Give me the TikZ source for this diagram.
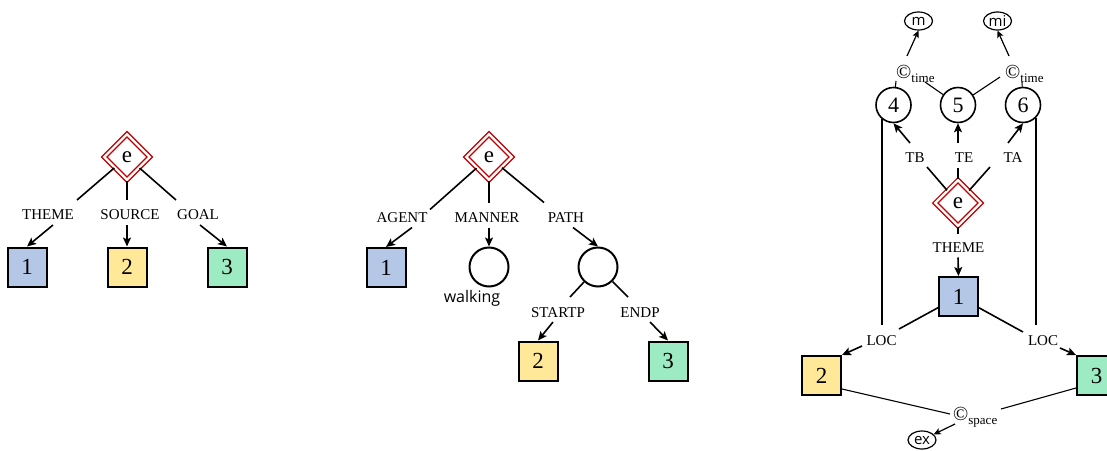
\documentclass[tikz,border=0pt]{standalone}
\usepackage{fontspec}
\setmainfont{Liberation Serif}
\newfontfamily\sansf{Open Sans}
\usetikzlibrary{shapes.geometric,arrows.meta,calc}

\definecolor{evred}{HTML}{C00000}
\definecolor{boxblue}{HTML}{B4C7E7}
\definecolor{boxyellow}{HTML}{FFE998}
\definecolor{boxgreen}{HTML}{9CEBC2}

% relation symbol with a lowered subscript word
\newcommand\relsym[1]{{\fontsize{20}{20}\selectfont ©}\raisebox{-4pt}{\fontsize{13}{13}\selectfont #1}}

\begin{document}
\begin{tikzpicture}[x=1pt,y=-1pt,
  event/.style={diamond, draw=evred, double=white, double distance=2.4pt,
    line width=1.3pt, minimum width=46pt, minimum height=46pt, inner sep=0pt,
    font=\fontsize{23}{23}\selectfont},
  ent/.style={rectangle, draw, line width=2pt, minimum size=39pt, inner sep=0pt,
    font=\fontsize{23}{23}\selectfont},
  slot/.style={circle, draw, line width=2pt, minimum size=39pt, inner sep=0pt},
  tslot/.style={circle, draw, line width=1.6pt, minimum size=35pt, inner sep=0pt,
    font=\fontsize{22}{22}\selectfont},
  val/.style={ellipse, draw, line width=1.2pt, minimum width=28pt, minimum height=18pt,
    inner sep=0pt, font=\sansf\fontsize{15}{15}\selectfont},
  role/.style={inner sep=0pt, text height=10pt, text depth=0pt,
    font=\fontsize{15}{15}\selectfont},
  rel/.style={inner sep=0pt, anchor=base west},
  conn/.style={line width=1.6pt},
  arr/.style={conn, -{Stealth[length=9pt,width=8pt,inset=2pt]}},
  thinc/.style={line width=1.1pt},
  arrs/.style={line width=1.2pt, -{Stealth[length=7pt,width=6.5pt,inset=1.5pt]}}
]
\useasboundingbox (0,0) rectangle (1107,450);
\clip (0,0) rectangle (1107,450);

% ---------- motion event: theme, source, goal ----------
\node[event] (ea) at (127,157) {e};
\node[role] (ath) at (48,214.5) {THEME};
\node[role] (aso) at (130,214.5) {SOURCE};
\node[role] (ago) at (198,214.5) {GOAL};
\node[ent, fill=boxblue]   (a1) at (27,267)  {1};
\node[ent, fill=boxyellow] (a2) at (127,267) {2};
\node[ent, fill=boxgreen]  (a3) at (227,267) {3};
\draw[conn] (ea) -- ([shift={(29,-14.5)}]ath.center);
\draw[conn] (ea) -- ([shift={(-3,-14.5)}]aso.center);
\draw[conn] (ea) -- ([shift={(-22,-14.5)}]ago.center);
\draw[arr] ([shift={(5,10.5)}]ath.center) -- (a1.north);
\draw[arr] ([shift={(-3,10.5)}]aso.center) -- (a2.north);
\draw[arr] ([shift={(2,10.5)}]ago.center) -- (a3.north);

% ---------- agent, manner and path ----------
\node[event] (eb) at (489,157) {e};
\node[role] (bag) at (402,217.5) {AGENT};
\node[role] (bma) at (487,217.5) {MANNER};
\node[role] (bpa) at (566,217.5) {PATH};
\node[ent, fill=boxblue] (b1) at (386,267.5) {1};
\node[slot] (bw) at (489,267) {};
\node[slot] (bp) at (598,267) {};
\node[inner sep=0pt, font=\sansf\fontsize{16}{16}\selectfont] (bwl) at (472,298) {walking};
\node[role] (bst) at (558,312) {STARTP};
\node[role] (ben) at (640,312) {ENDP};
\node[ent, fill=boxyellow] (b2) at (538,361) {2};
\node[ent, fill=boxgreen]  (b3) at (668,361) {3};
\draw[conn] (eb) -- ([shift={(28,-8)}]bag.center);
\draw[conn] (eb) -- ([shift={(2,-15)}]bma.center);
\draw[conn] (eb) -- ([shift={(-22,-15)}]bpa.center);
\draw[arr] ([shift={(10,10)}]bag.center) -- (b1.north);
\draw[arr] ([shift={(2,10)}]bma.center) -- (bw.north);
\draw[arr] ([shift={(7,10)}]bpa.center) -- (bp.north);
\draw[conn] (bp) -- ([shift={(12,-15)}]bst.center);
\draw[conn] (bp) -- ([shift={(-12,-15)}]ben.center);
\draw[arr] ([shift={(-5,10)}]bst.center) -- (b2.north);
\draw[arr] ([shift={(10,10)}]ben.center) -- (b3.north);

% ---------- temporal and spatial structure ----------
\node[event] (ec) at (958,203) {e};
\node[tslot] (c4) at (893.5,105) {4};
\node[tslot] (c5) at (958,105)   {5};
\node[tslot] (c6) at (1023,105)  {6};
\node[val] (cm)  at (918.5,21) {m};
\node[val] (cmi) at (997.5,21) {mi};
\node[val] (cex) at (922,440)  {ex};
\node[rel] (ctl) at (896,78)  {\relsym{time}};
\node[rel] (ctr) at (1005,78) {\relsym{time}};
\node[rel] (csp) at (953,420) {\relsym{space}};
\node[role] (ctb) at (915,157.5) {TB};
\node[role] (cte) at (964,157.5) {TE};
\node[role] (cta) at (1013,157.5) {TA};
\node[role] (cth) at (958.5,247.5) {THEME};
\node[ent, fill=boxblue] (c1) at (958.5,296.5) {1};
\node[role] (cl1) at (881.5,340) {LOC};
\node[role] (cl2) at (1043,340) {LOC};
\node[ent, fill=boxyellow] (c2) at (821.5,375.5)  {2};
\node[ent, fill=boxgreen]  (c3) at (1096.5,375.5) {3};

% time relations
\draw[arrs] ([shift={(11,-22)}]ctl.base west) -- (cm.south);
\draw[thinc] ([shift={(0,3)}]ctl.base west) -- (c4);
\draw[thinc] ([shift={(29,4)}]ctl.base west) -- (c5);
\draw[arrs] ([shift={(4,-22)}]ctr.base west) -- (cmi.south);
\draw[thinc] ([shift={(-5,-1)}]ctr.base west) -- (c5);
\draw[thinc] ([shift={(17,4)}]ctr.base west) -- (c6);

% event to time points
\draw[conn] (ec) -- ([shift={(12,9.5)}]ctb.center);
\draw[arr] ([shift={(-5,-14.5)}]ctb.center) -- (c4.south);
\draw[conn] (ec) -- ([shift={(-6,10.5)}]cte.center);
\draw[arr] ([shift={(-6,-14.5)}]cte.center) -- (c5.south);
\draw[conn] (ec) -- ([shift={(-23,9.5)}]cta.center);
\draw[arr] ([shift={(-5,-14.5)}]cta.center) -- (c6.south);

% theme
\draw[conn] (ec) -- ([shift={(-0.5,-13.5)}]cth.center);
\draw[arr] ([shift={(-0.5,10)}]cth.center) -- (c1.north);

% locations
\draw[conn, shorten >=10pt] (c4.230) -- (c4.230 |- cl1.north);
\draw[conn, shorten >=10pt] (c6.316) -- (c6.316 |- cl2.north);
\draw[conn] (c1) -- ([shift={(17.5,-11)}]cl1.center);
\draw[arr] ([shift={(-19.5,6)}]cl1.center) -- (c2.north east);
\draw[conn] (c1) -- ([shift={(-20,-8)}]cl2.center);
\draw[arr] ([shift={(17,8)}]cl2.center) -- (c3.north west);

% space relation
\draw[thinc] ([yshift=-13.5pt]c2.east) -- ([shift={(-3,-6)}]csp.base west);
\draw[thinc] ([yshift=-12.5pt]c3.west) -- ([shift={(48,-11)}]csp.base west);
\draw[arrs] ([shift={(2,4)}]csp.base west) -- (cex);
\end{tikzpicture}
\end{document}
